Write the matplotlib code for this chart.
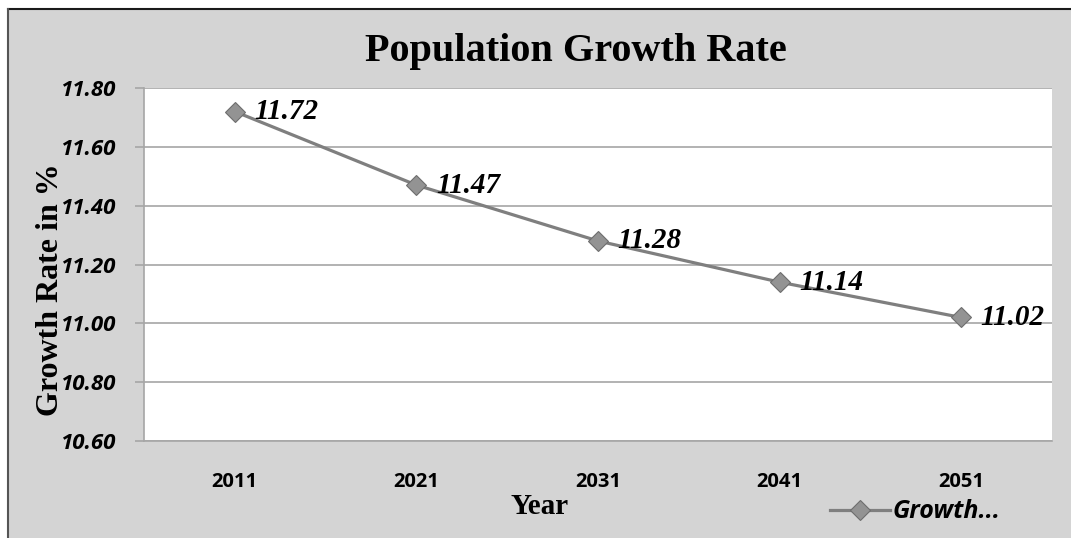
import matplotlib
matplotlib.use("Agg")
import matplotlib.pyplot as plt
from matplotlib.patches import Rectangle
from matplotlib.lines import Line2D

years = ["2011", "2021", "2031", "2041", "2051"]
growth = [11.72, 11.47, 11.28, 11.14, 11.02]
yticks = [10.60, 10.80, 11.00, 11.20, 11.40, 11.60, 11.80]

W, H = 1071, 538
fig = plt.figure(figsize=(W / 100, H / 100), dpi=100, facecolor="white")

bg = "#d4d4d4"
fig.patches.append(Rectangle((8 / W, 0), 1, 1 - 9 / H, transform=fig.transFigure,
                             facecolor=bg, edgecolor="none", zorder=-10))
fig.lines.append(Line2D([8 / W, 1], [1 - 9 / H, 1 - 9 / H], transform=fig.transFigure,
                        color="#1a1a1a", lw=1.5, zorder=-5))
fig.lines.append(Line2D([8 / W, 8 / W], [0, 1 - 9 / H], transform=fig.transFigure,
                        color="#555555", lw=1.5, zorder=-5))

ax = fig.add_axes([144 / W, 1 - 441 / H, (1052 - 144) / W, (441 - 88) / H])
ax.set_zorder(1)
ax.set_facecolor("white")
x = list(range(len(years)))
line, = ax.plot(x, growth, color="#7f7f7f", lw=2.3, marker="D", markersize=10,
                markerfacecolor="#939393", markeredgecolor="#6e6e6e", markeredgewidth=0.8,
                label="Growth...", zorder=3)

for xi, v in zip(x, growth):
    ax.annotate(f"{v:.2f}", (xi, v), xytext=(14, 0), textcoords="offset points",
                ha="left", va="center", fontsize=21, fontweight="bold", style="italic",
                family="Liberation Serif", color="black", zorder=4)

ax.set_xlim(-0.5, len(years) - 0.5)
ax.set_ylim(10.60, 11.80)
ax.set_yticks(yticks)
ax.set_yticklabels([f"{t:.2f}" for t in yticks], fontsize=16, fontweight="bold",
                   style="italic", family="Open Sans")
ax.set_xticks(x)
ax.set_xticklabels(years, fontsize=14.5, fontweight="bold", family="Open Sans")
ax.yaxis.grid(True, color="#a6a6a6", lw=1.2)
ax.set_axisbelow(True)
for s in ["top", "right"]:
    ax.spines[s].set_visible(False)
ax.spines["left"].set_color("#a6a6a6")
ax.spines["bottom"].set_color("#a6a6a6")
ax.spines["left"].set_linewidth(1.2)
ax.spines["bottom"].set_linewidth(1.2)
ax.tick_params(axis="y", length=6.5, color="#a6a6a6", width=1.2, pad=14)
ax.tick_params(axis="x", length=0, pad=22)

fig.text(576 / W, 1 - 52 / H, "Population Growth Rate", ha="center", va="center",
         fontsize=29, fontweight="bold", family="Liberation Serif")
fig.text(51 / W, 1 - 290 / H, "Growth Rate in %", ha="center", va="center", rotation=90,
         fontsize=23, fontweight="bold", family="Liberation Serif", zorder=5)
fig.text(540 / W, 1 - 506 / H, "Year", ha="center", va="center",
         fontsize=21, fontweight="bold", family="Liberation Serif")

fig.legend(handles=[line], loc="center", bbox_to_anchor=(915 / W, 1 - 512 / H),
           frameon=False, handlelength=2.4, handletextpad=0.1,
           prop={"family": "Open Sans", "weight": "bold", "style": "italic", "size": 18})

fig.savefig("out.png", dpi=100, facecolor="white")
